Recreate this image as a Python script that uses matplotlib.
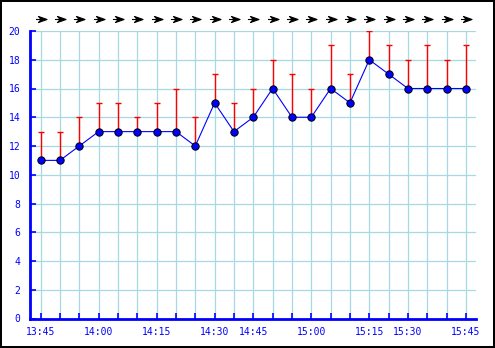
import matplotlib
matplotlib.use("Agg")
import matplotlib.pyplot as plt
from matplotlib.path import Path
import numpy as np

# data
speed = [11, 11, 12, 13, 13, 13, 13, 13, 12, 15, 13, 14, 16, 14, 14, 16, 15, 18, 17, 16, 16, 16, 16]
gust = [13, 13, 14, 15, 15, 14, 15, 16, 14, 17, 15, 16, 18, 17, 16, 19, 17, 20, 19, 18, 19, 18, 19]
tick_idx = [0, 3, 6, 9, 11, 14, 17, 19, 22]
tick_labels = ["13:45", "14:00", "14:15", "14:30", "14:45", "15:00", "15:15", "15:30", "15:45"]
y_ticks = list(range(0, 21, 2))

x = np.arange(len(speed))

fig = plt.figure(figsize=(4.95, 3.48), dpi=100)
fig.patch.set_facecolor("white")
fig.patch.set_edgecolor("black")
fig.patch.set_linewidth(1.5)

W, H = 495, 348
ax = fig.add_axes([30 / W, (H - 318.5) / H, (476 - 30) / W, (318.5 - 31) / H])
ax.set_xlim(-0.55, 22.52)
ax.set_ylim(0, 20)

grid_c = "#a6d9e2"
for yv in y_ticks:
    ax.axhline(yv, color=grid_c, lw=0.9, zorder=0)
for xv in x:
    ax.axvline(xv, color=grid_c, lw=0.9, zorder=0)

# gust bars
lower = np.zeros(len(speed))
upper = np.array(gust) - np.array(speed)
ax.errorbar(x, speed, yerr=[lower, upper], fmt="none", ecolor="red",
            elinewidth=1.0, capsize=2.3, capthick=1.0, zorder=2)

ax.plot(x, speed, color="#0000ff", lw=0.8, marker="o", markersize=5.3,
        markerfacecolor="#0000ff", markeredgecolor="black", markeredgewidth=0.7, zorder=3)

# direction arrows
verts = [(1.0, 0.0), (-0.55, 0.55), (-0.05, 0.0), (-0.55, -0.55), (1.0, 0.0),
         (-1.0, 0.0), (0.2, 0.0)]
codes = [Path.MOVETO, Path.LINETO, Path.LINETO, Path.LINETO, Path.CLOSEPOLY,
         Path.MOVETO, Path.LINETO]
arrow = Path(verts, codes)
trans = ax.get_xaxis_transform()
ax.plot(x, [1.042] * len(x), linestyle="none", marker=arrow, markersize=8,
        color="black", markeredgewidth=0.8, transform=trans, clip_on=False)

for s in ["top", "right"]:
    ax.spines[s].set_visible(False)
for s in ["left", "bottom"]:
    ax.spines[s].set_color("#0000ff")
    ax.spines[s].set_linewidth(2)
    ax.spines[s].set_zorder(4)

ax.set_yticks(y_ticks)
ax.set_xticks(x, minor=True)
ax.set_xticks(tick_idx)
ax.set_xticklabels(tick_labels)
ax.tick_params(axis="both", which="both", direction="in", color="#0000ff",
               length=4, width=1.2, labelcolor="#0000ff", labelsize=7)
ax.tick_params(axis="x", which="major", pad=6)
ax.tick_params(axis="y", pad=7)
for lab in ax.get_xticklabels() + ax.get_yticklabels():
    lab.set_family("DejaVu Sans Mono")

fig.savefig("out.png", dpi=100, facecolor="white", edgecolor="black")
